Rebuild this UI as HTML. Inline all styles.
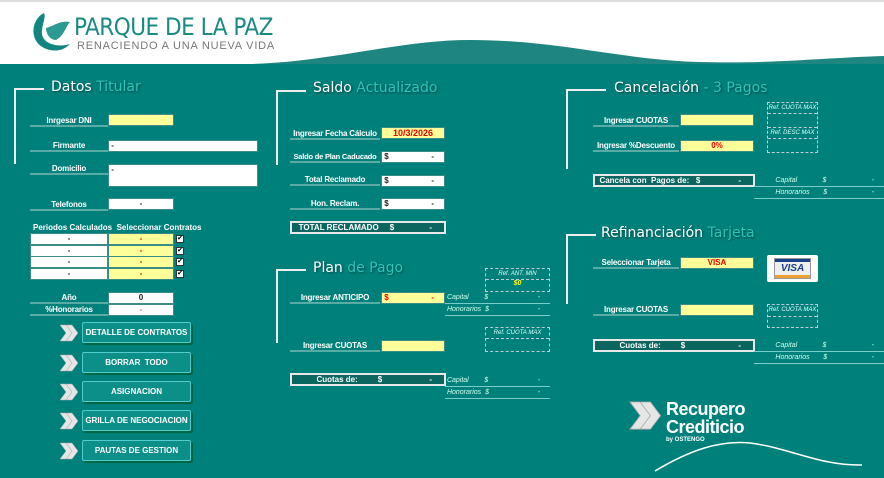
<!DOCTYPE html>
<html><head><meta charset="utf-8"><style>
*{margin:0;padding:0;box-sizing:border-box}
body{width:884px;height:478px;overflow:hidden;background:#00807a;font-family:"Liberation Sans",sans-serif;position:relative}
.a{position:absolute}
.lbl{position:absolute;color:#fff;font-weight:bold;font-size:8px;text-align:center;border-bottom:2px solid #5aaaa5;height:11px;line-height:9px;white-space:nowrap;letter-spacing:-0.2px}
.y{position:absolute;background:#ffff99;border:1px solid #3a8c86;height:12px;font-size:8px;font-weight:bold;color:#e00;text-align:center;line-height:10px}
.w{position:absolute;background:#fff;border:1px solid #3a8c86;height:12px;font-size:8px;font-weight:bold;color:#222;line-height:10px}
.t{position:absolute;color:#fff;font-size:14px;font-family:"DejaVu Sans",sans-serif;text-shadow:1px 1px 2px #044;white-space:nowrap}
.t span{color:#2ec4b8}
.bv{position:absolute;width:2px;background:#eee}
.bh{position:absolute;height:2px;background:#eee}
.tot{position:absolute;background:#0b6660;border:2px solid #e8e8e8;height:13px;color:#fff;font-size:8px;font-weight:bold;line-height:9px;white-space:nowrap}
.ref{position:absolute;border:1px dashed #bcd;font-size:6px;font-style:italic;color:#dff;text-align:center;white-space:nowrap}
.ref div{border-bottom:1px dashed #bcd}
.cap{position:absolute;color:#cfe;font-size:7px;font-style:italic;border-bottom:1px solid #7cc;height:12px;line-height:11px;white-space:nowrap}
.btn{position:absolute;left:82px;width:109px;height:21px;background:#0c8f88;border:1px solid #5cc;box-shadow:2px 2px 0 #064;border-radius:2px;color:#fff;font-weight:bold;font-size:8px;text-align:center;line-height:19px;white-space:nowrap}
.cb{position:absolute;left:176px;width:8px;height:8px;background:#fff;border:1px solid #333;font-size:7px;line-height:6px;color:#000;text-align:center}
</style></head><body>
<svg class="a" style="left:0;top:0" width="884" height="70">
<rect width="884" height="64" fill="#fff"/>
<path d="M250 64 C330 62 400 40 470 40 C560 40 620 60 700 62 C770 64 820 58 884 56 L884 64 Z" fill="#1f8580"/>
<rect x="0" y="0" width="884" height="2" fill="#ddd"/>
<path d="M44 13 C30 20 28 45 50 50 C60 52 66 48 70 44 C58 48 40 44 42 30 C43 22 46 17 44 13 Z" fill="#11857f"/>
<path d="M46 28 C54 26 60 20 70 22 C66 26 64 36 56 40 C50 40 46 34 46 28 Z" fill="#2a9a93"/>
</svg>
<div class="a" style="left:74px;top:13px;font-size:24px;color:#1a8a85;letter-spacing:-0.5px;font-family:'DejaVu Sans Condensed','DejaVu Sans',sans-serif">PARQUE DE LA PAZ</div>
<div class="a" style="left:77px;top:40px;font-size:11px;color:#777;letter-spacing:0.8px">RENACIENDO A UNA NUEVA VIDA</div>

<svg class="a" style="left:0;top:0" width="884" height="478">
<defs><g id="ch"><path d="M0 0 L6 0 L12 8 L6 16 L0 16 L6 8 Z M6 0 L12 0 L18 8 L12 16 L6 16 L12 8 Z" fill="#e6e6e6" stroke="#aaa" stroke-width="0.5"/></g></defs>
<use href="#ch" x="60" y="325"/><use href="#ch" x="60" y="355"/><use href="#ch" x="60" y="384"/><use href="#ch" x="60" y="413"/><use href="#ch" x="60" y="443"/>
<g transform="translate(630,402) scale(1.7)"><use href="#ch"/></g>
<path d="M655 471 C690 450 720 440 750 443 C790 448 820 466 862 465" stroke="#fff" stroke-width="1.5" fill="none"/>
</svg>

<!-- Datos Titular -->
<div class="bh" style="left:14px;top:88px;width:30px"></div><div class="bv" style="left:14px;top:88px;height:76px"></div>
<div class="t" style="left:51px;top:79px">Datos <span>Titular</span></div>
<div class="lbl" style="left:30px;top:116px;width:78px">Inrgesar DNI</div><div class="y" style="left:108px;top:114px;width:66px"></div>
<div class="lbl" style="left:30px;top:141px;width:78px">Firmante</div><div class="w" style="left:108px;top:140px;width:150px">&nbsp;-</div>
<div class="lbl" style="left:30px;top:164px;width:78px">Domicilio</div><div class="w" style="left:108px;top:164px;width:150px;height:23px">&nbsp;-</div>
<div class="lbl" style="left:30px;top:200px;width:78px">Telefonos</div><div class="w" style="left:108px;top:198px;width:66px;text-align:center">-</div>
<div class="a" style="left:33px;top:223px;color:#fff;font-size:8px;font-weight:bold;white-space:nowrap">Periodos Calculados&nbsp; Seleccionar Contratos</div>
<div class="w" style="left:30px;top:233px;width:78px;text-align:center">-</div><div class="y" style="left:108px;top:233px;width:66px">-</div><div class="cb" style="top:235px">✔</div>
<div class="w" style="left:30px;top:245px;width:78px;text-align:center">-</div><div class="y" style="left:108px;top:245px;width:66px">-</div><div class="cb" style="top:247px">✔</div>
<div class="w" style="left:30px;top:256px;width:78px;text-align:center">-</div><div class="y" style="left:108px;top:256px;width:66px">-</div><div class="cb" style="top:258px">✔</div>
<div class="w" style="left:30px;top:268px;width:78px;text-align:center">-</div><div class="y" style="left:108px;top:268px;width:66px">-</div><div class="cb" style="top:270px">✔</div>
<div class="lbl" style="left:30px;top:293px;width:78px">Año</div><div class="w" style="left:108px;top:292px;width:66px;text-align:center">0</div>
<div class="lbl" style="left:30px;top:305px;width:78px">%Honorarios</div><div class="w" style="left:108px;top:304px;width:66px;text-align:center;color:#e66">-</div>
<div class="btn" style="top:322px">DETALLE DE CONTRATOS</div>
<div class="btn" style="top:352px">BORRAR&nbsp; TODO</div>
<div class="btn" style="top:381px">ASIGNACION</div>
<div class="btn" style="top:410px">GRILLA DE NEGOCIACION</div>
<div class="btn" style="top:440px">PAUTAS DE GESTION</div>

<!-- Saldo -->
<div class="bh" style="left:276px;top:90px;width:30px"></div><div class="bv" style="left:276px;top:90px;height:75px"></div>
<div class="t" style="left:313px;top:80px">Saldo <span>Actualizado</span></div>
<div class="lbl" style="left:290px;top:129px;width:90px">Ingresar Fecha Cálculo</div><div class="y" style="left:381px;top:127px;width:64px;font-size:9px">10/3/2026</div>
<div class="lbl" style="left:290px;top:152px;width:90px;font-size:7.5px">Saldo de Plan Caducado</div><div class="w" style="left:381px;top:151px;width:64px">&nbsp;$<span style="float:right;margin-right:10px">-</span></div>
<div class="lbl" style="left:290px;top:175px;width:90px">Total Reclamado</div><div class="w" style="left:381px;top:175px;width:64px">&nbsp;$<span style="float:right;margin-right:10px">-</span></div>
<div class="lbl" style="left:290px;top:199px;width:90px">Hon. Reclam.</div><div class="w" style="left:381px;top:198px;width:64px">&nbsp;$<span style="float:right;margin-right:10px">-</span></div>
<div class="tot" style="left:290px;top:221px;width:156px">&nbsp;&nbsp; TOTAL RECLAMADO&nbsp;&nbsp;&nbsp;&nbsp; $<span style="float:right;margin-right:12px">-</span></div>

<div class="bh" style="left:276px;top:269px;width:30px"></div><div class="bv" style="left:276px;top:269px;height:74px"></div>
<div class="t" style="left:313px;top:260px">Plan <span>de Pago</span></div>
<div class="ref" style="left:485px;top:268px;width:65px;height:24px"><div style="height:11px;line-height:10px">Ref. ANT. MIN</div><span style="color:#ff0;font-size:7px;font-weight:bold">$0</span></div>
<div class="lbl" style="left:290px;top:293px;width:90px">Ingresar ANTICIPO</div><div class="y" style="left:381px;top:292px;width:64px;text-align:left">&nbsp;$<span style="float:right;margin-right:10px">-</span></div>
<div class="cap" style="left:445px;top:292px;width:105px">&nbsp;Capital&nbsp;&nbsp;&nbsp;&nbsp;&nbsp;&nbsp;&nbsp; $<span style="float:right;margin-right:10px">-</span></div>
<div class="cap" style="left:445px;top:304px;width:105px">&nbsp;Honorarios&nbsp; $<span style="float:right;margin-right:10px">-</span></div>
<div class="ref" style="left:485px;top:327px;width:65px;height:25px"><div style="height:11px;line-height:10px">Ref. CUOTA MAX</div></div>
<div class="lbl" style="left:290px;top:341px;width:90px">Ingresar CUOTAS</div><div class="y" style="left:381px;top:340px;width:64px"></div>
<div class="tot" style="left:290px;top:373px;width:156px">&nbsp;&nbsp;&nbsp;&nbsp;&nbsp;&nbsp;&nbsp;&nbsp;&nbsp;&nbsp; Cuotas de:&nbsp;&nbsp;&nbsp;&nbsp;&nbsp;&nbsp;&nbsp;&nbsp; $<span style="float:right;margin-right:12px">-</span></div>
<div class="cap" style="left:445px;top:375px;width:105px">&nbsp;Capital&nbsp;&nbsp;&nbsp;&nbsp;&nbsp;&nbsp;&nbsp; $<span style="float:right;margin-right:10px">-</span></div>
<div class="cap" style="left:445px;top:387px;width:105px">&nbsp;Honorarios&nbsp; $<span style="float:right;margin-right:10px">-</span></div>

<!-- Cancelacion -->
<div class="bh" style="left:566px;top:89px;width:40px"></div><div class="bv" style="left:566px;top:89px;height:80px"></div>
<div class="t" style="left:614px;top:80px">Cancelación <span>- 3 Pagos</span></div>
<div class="lbl" style="left:593px;top:116px;width:86px">Ingresar CUOTAS</div><div class="y" style="left:680px;top:114px;width:74px"></div>
<div class="lbl" style="left:593px;top:141px;width:86px">Ingresar %Descuento</div><div class="y" style="left:680px;top:140px;width:74px">0%</div>
<div class="ref" style="left:767px;top:102px;width:51px;height:51px"><div style="height:11px;line-height:10px">Ref. CUOTA MAX</div><div style="height:14px"></div><div style="height:11px;line-height:10px">Ref. DESC MAX</div></div>
<div class="tot" style="left:593px;top:174px;width:162px">&nbsp; Cancela con&nbsp; Pagos de:&nbsp;&nbsp; $<span style="float:right;margin-right:12px">-</span></div>
<div class="cap" style="left:754px;top:175px;width:130px">&nbsp;&nbsp;&nbsp;&nbsp;&nbsp;&nbsp;&nbsp;&nbsp;&nbsp;&nbsp; Capital&nbsp;&nbsp;&nbsp;&nbsp;&nbsp;&nbsp;&nbsp;&nbsp;&nbsp;&nbsp;&nbsp;&nbsp; $<span style="float:right;margin-right:10px">-</span></div>
<div class="cap" style="left:754px;top:187px;width:130px">&nbsp;&nbsp;&nbsp;&nbsp;&nbsp;&nbsp;&nbsp;&nbsp;&nbsp;&nbsp; Honorarios&nbsp;&nbsp;&nbsp;&nbsp;&nbsp;&nbsp; $<span style="float:right;margin-right:10px">-</span></div>

<div class="bh" style="left:566px;top:234px;width:30px"></div><div class="bv" style="left:566px;top:234px;height:70px"></div>
<div class="t" style="left:601px;top:225px">Refinanciación <span>Tarjeta</span></div>
<div class="lbl" style="left:593px;top:258px;width:86px">Seleccionar Tarjeta</div><div class="y" style="left:680px;top:257px;width:74px">VISA</div>
<div class="a" style="left:767px;top:255px;width:51px;height:27px;background:#fff;border-radius:2px"><div class="a" style="left:7px;top:3px;width:37px;height:21px;background:#eee;border:1px solid #999"><div style="height:3px;background:#1a3f8a"></div><div style="font-size:10px;font-weight:bold;font-style:italic;color:#1a3f8a;text-align:center;line-height:13px">VISA</div><div style="height:3px;background:#f0a030"></div></div></div>
<div class="lbl" style="left:593px;top:305px;width:86px">Ingresar CUOTAS</div><div class="y" style="left:680px;top:304px;width:74px"></div>
<div class="ref" style="left:767px;top:304px;width:51px;height:24px"><div style="height:12px;line-height:11px">Ref. CUOTA MAX</div></div>
<div class="tot" style="left:593px;top:339px;width:162px">&nbsp;&nbsp;&nbsp;&nbsp;&nbsp;&nbsp;&nbsp;&nbsp;&nbsp;&nbsp; Cuotas de:&nbsp;&nbsp;&nbsp;&nbsp;&nbsp;&nbsp;&nbsp;&nbsp; $<span style="float:right;margin-right:12px">-</span></div>
<div class="cap" style="left:754px;top:340px;width:130px">&nbsp;&nbsp;&nbsp;&nbsp;&nbsp;&nbsp;&nbsp;&nbsp;&nbsp;&nbsp; Capital&nbsp;&nbsp;&nbsp;&nbsp;&nbsp;&nbsp;&nbsp;&nbsp;&nbsp;&nbsp;&nbsp;&nbsp; $<span style="float:right;margin-right:10px">-</span></div>
<div class="cap" style="left:754px;top:352px;width:130px">&nbsp;&nbsp;&nbsp;&nbsp;&nbsp;&nbsp;&nbsp;&nbsp;&nbsp;&nbsp; Honorarios&nbsp;&nbsp;&nbsp;&nbsp;&nbsp;&nbsp; $<span style="float:right;margin-right:10px">-</span></div>

<!-- Recupero logo -->
<div class="a" style="left:666px;top:400px;color:#fff;font-size:18px;font-weight:bold;line-height:18px;letter-spacing:-0.5px">Recupero<br>Crediticio</div>
<div class="a" style="left:666px;top:437px;color:#fff;font-size:6px;font-weight:bold">by OSTENGO</div>
</body></html>
